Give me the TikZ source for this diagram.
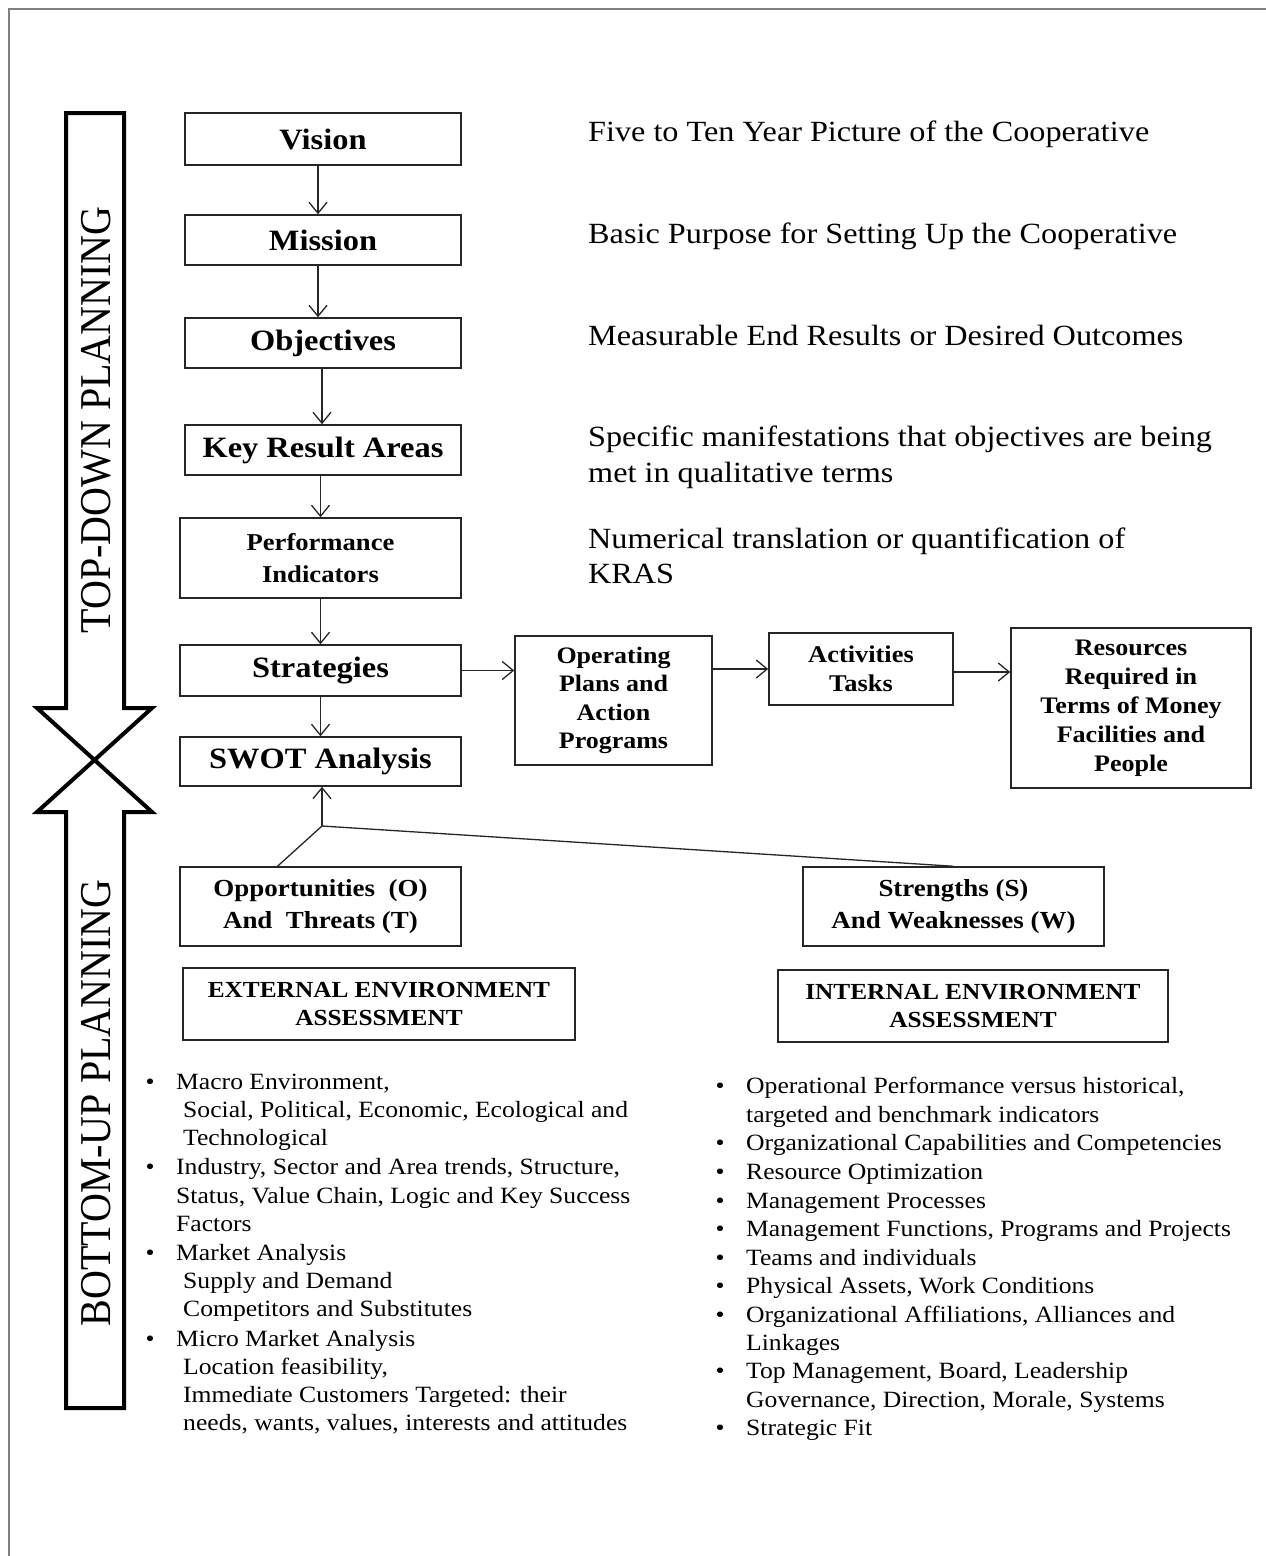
\documentclass[tikz,border=0pt]{standalone}
\usepackage{fontspec}
\setmainfont{Liberation Serif}[FakeStretch=1.1]
\newfontfamily\plainserif{Liberation Serif}
\usetikzlibrary{arrows.meta}
\newcommand{\fsz}[2]{\fontsize{#1}{#2}\selectfont}
\tikzset{
  box/.style={draw=black!85, line width=1.5pt, inner sep=0pt, align=center, font=\bfseries\fsz{29.5}{34}},
  flow/.style={draw=black!85, line width=1.3pt, -{Straight Barb[length=11pt,width=18pt,line width=1.3pt]}},
  plainline/.style={draw=black!85, line width=1.3pt},
  desc/.style={anchor=base west, inner sep=0pt, font=\fsz{29.3}{35}},
  item/.style={anchor=base west, inner sep=0pt, font=\fsz{23.3}{28}},
  bul/.style={anchor=base, inner sep=0pt, font=\fsz{23.3}{28}},
  biglabel/.style={rotate=90, inner sep=0pt},
}
\begin{document}
\begin{tikzpicture}[x=1pt,y=-1pt]
\useasboundingbox (0,0) rectangle (1266,1556);
\draw[gray, line width=2pt] (9,1556) -- (9,9) -- (1266,9);

% big double arrow
\draw[line width=4pt, line join=miter] (66,113) -- (124,113) -- (124,708) -- (152,708) -- (37,812) -- (66,812) -- (66,1408) -- (124,1408) -- (124,812) -- (152,812) -- (37,708) -- (66,708) -- cycle;
\node[biglabel] (td) at (96,420) {\scalebox{1}[1.1]{\plainserif\fsz{40}{40}TOP-DOWN PLANNING}};
\node[biglabel] (bu) at (96,1103) {\scalebox{1}[1.1]{\plainserif\fsz{40}{40}BOTTOM-UP PLANNING}};

% main column
\node[box, minimum width=276pt, minimum height=52pt] (vision) at (323,139) {Vision};
\node[box, minimum width=276pt, minimum height=50pt] (mission) at (323,240) {Mission};
\node[box, minimum width=276pt, minimum height=50pt] (objectives) at (323,343) {Objectives};
\node[box, minimum width=276pt, minimum height=50pt] (kra) at (323,450) {Key Result Areas};
\node[box, minimum width=281pt, minimum height=80pt, font=\bfseries\fsz{24.2}{32}] (perf) at (320.5,558) {Performance\\Indicators};
\node[box, minimum width=281pt, minimum height=51pt] (strat) at (320.5,670.5) {Strategies};
\node[box, minimum width=281pt, minimum height=49pt] (swot) at (320.5,761.5) {SWOT Analysis};

% right chain
\node[box, minimum width=197pt, minimum height=129pt, font=\bfseries\fsz{23.6}{28.5}] (oper) at (613.5,700.5) {Operating\\Plans and\\Action\\Programs};
\node[box, minimum width=184pt, minimum height=72pt, font=\bfseries\fsz{24}{29}] (act) at (861,669) {Activities\\Tasks};
\node[box, minimum width=240pt, minimum height=160pt, font=\bfseries\fsz{23.7}{29}] (res) at (1131,708) {Resources\\Required in\\Terms of Money\\Facilities and\\People};

% inputs
\node[box, minimum width=281pt, minimum height=79pt, font=\bfseries\fsz{24.5}{32}] (opp) at (320.5,906.5) {Opportunities~~(O)\\And~~Threats (T)};
\node[box, minimum width=301pt, minimum height=79pt, font=\bfseries\fsz{24.5}{32}] (str) at (953.5,906.5) {Strengths (S)\\And~Weaknesses (W)};
\node[box, minimum width=392pt, minimum height=72pt, font=\bfseries\fsz{23}{28}] (ext) at (379,1004) {EXTERNAL ENVIRONMENT\\ASSESSMENT};
\node[box, minimum width=390pt, minimum height=72pt, font=\bfseries\fsz{23}{28}] (int) at (973,1006) {INTERNAL ENVIRONMENT\\ASSESSMENT};

% connectors
\draw[flow] ([xshift=-5pt]vision.south) -- ([xshift=-5pt]mission.north);
\draw[flow] ([xshift=-5pt]mission.south) -- ([xshift=-5pt]objectives.north);
\draw[flow] ([xshift=-1pt]objectives.south) -- ([xshift=-1pt]kra.north);
\draw[flow] ([xshift=-2.5pt]kra.south) -- (perf.north);
\draw[flow] (perf.south) -- (strat.north);
\draw[flow] (strat.south) -- (swot.north);
\draw[flow] (strat.east) -- (strat.east -| oper.west);
\draw[flow] (oper.east |- act.west) -- (act.west);
\draw[flow] ([yshift=-3pt]act.east) -- ([yshift=-3pt]act.east -| res.west);
\coordinate (junc) at (322,826);
\draw[flow] (junc) -- (junc |- swot.south);
\draw[plainline] ([xshift=-43pt]opp.north) -- (junc) -- (str.north);

% descriptions
\node[desc] (d1) at (588,141) {Five to Ten Year Picture of the Cooperative};
\node[desc] (d2) at (588,243) {Basic Purpose for Setting Up the Cooperative};
\node[desc] (d3) at (588,345) {Measurable End Results or Desired Outcomes};
\node[desc] (d4a) at (588,446) {Specific manifestations that objectives are being};
\node[desc] (d4b) at (588,482) {met in qualitative terms};
\node[desc] (d5a) at (588,548) {Numerical translation or quantification of};
\node[desc] (d5b) at (588,583) {KRAS};

% left list
\node[bul] (lb1) at (150,1089) {•};
\node[item] (l1) at (176,1089) {Macro Environment,};
\node[item] (l2) at (183,1117) {Social, Political, Economic, Ecological and};
\node[item] (l3) at (183,1145) {Technological};
\node[bul] (lb2) at (150,1174) {•};
\node[item] (l4) at (176,1174) {Industry, Sector and Area trends, Structure,};
\node[item] (l5) at (176,1203) {Status, Value Chain, Logic and Key Success};
\node[item] (l6) at (176,1231) {Factors};
\node[bul] (lb3) at (150,1260) {•};
\node[item] (l7) at (176,1260) {Market Analysis};
\node[item] (l8) at (183,1288) {Supply and Demand};
\node[item] (l9) at (183,1316) {Competitors and Substitutes};
\node[bul] (lb4) at (150,1346) {•};
\node[item] (l10) at (176,1346) {Micro Market Analysis};
\node[item] (l11) at (183,1374) {Location feasibility,};
\node[item] (l12) at (183,1402) {Immediate Customers Targeted: their};
\node[item] (l13) at (183,1430) {needs, wants, values, interests and attitudes};

% right list
\node[bul] (rb1) at (720,1093) {•};
\node[item] (r1) at (746,1093) {Operational Performance versus historical,};
\node[item] (r2) at (746,1122) {targeted and benchmark indicators};
\node[bul] (rb2) at (720,1150) {•};
\node[item] (r3) at (746,1150) {Organizational Capabilities and Competencies};
\node[bul] (rb3) at (720,1179) {•};
\node[item] (r4) at (746,1179) {Resource Optimization};
\node[bul] (rb4) at (720,1208) {•};
\node[item] (r5) at (746,1208) {Management Processes};
\node[bul] (rb5) at (720,1236) {•};
\node[item] (r6) at (746,1236) {Management Functions, Programs and Projects};
\node[bul] (rb6) at (720,1265) {•};
\node[item] (r7) at (746,1265) {Teams and individuals};
\node[bul] (rb7) at (720,1293) {•};
\node[item] (r8) at (746,1293) {Physical Assets, Work Conditions};
\node[bul] (rb8) at (720,1322) {•};
\node[item] (r9) at (746,1322) {Organizational Affiliations, Alliances and};
\node[item] (r10) at (746,1350) {Linkages};
\node[bul] (rb9) at (720,1378) {•};
\node[item] (r11) at (746,1378) {Top Management, Board, Leadership};
\node[item] (r12) at (746,1407) {Governance, Direction, Morale, Systems};
\node[bul] (rb10) at (720,1435) {•};
\node[item] (r13) at (746,1435) {Strategic Fit};
\end{tikzpicture}
\end{document}
